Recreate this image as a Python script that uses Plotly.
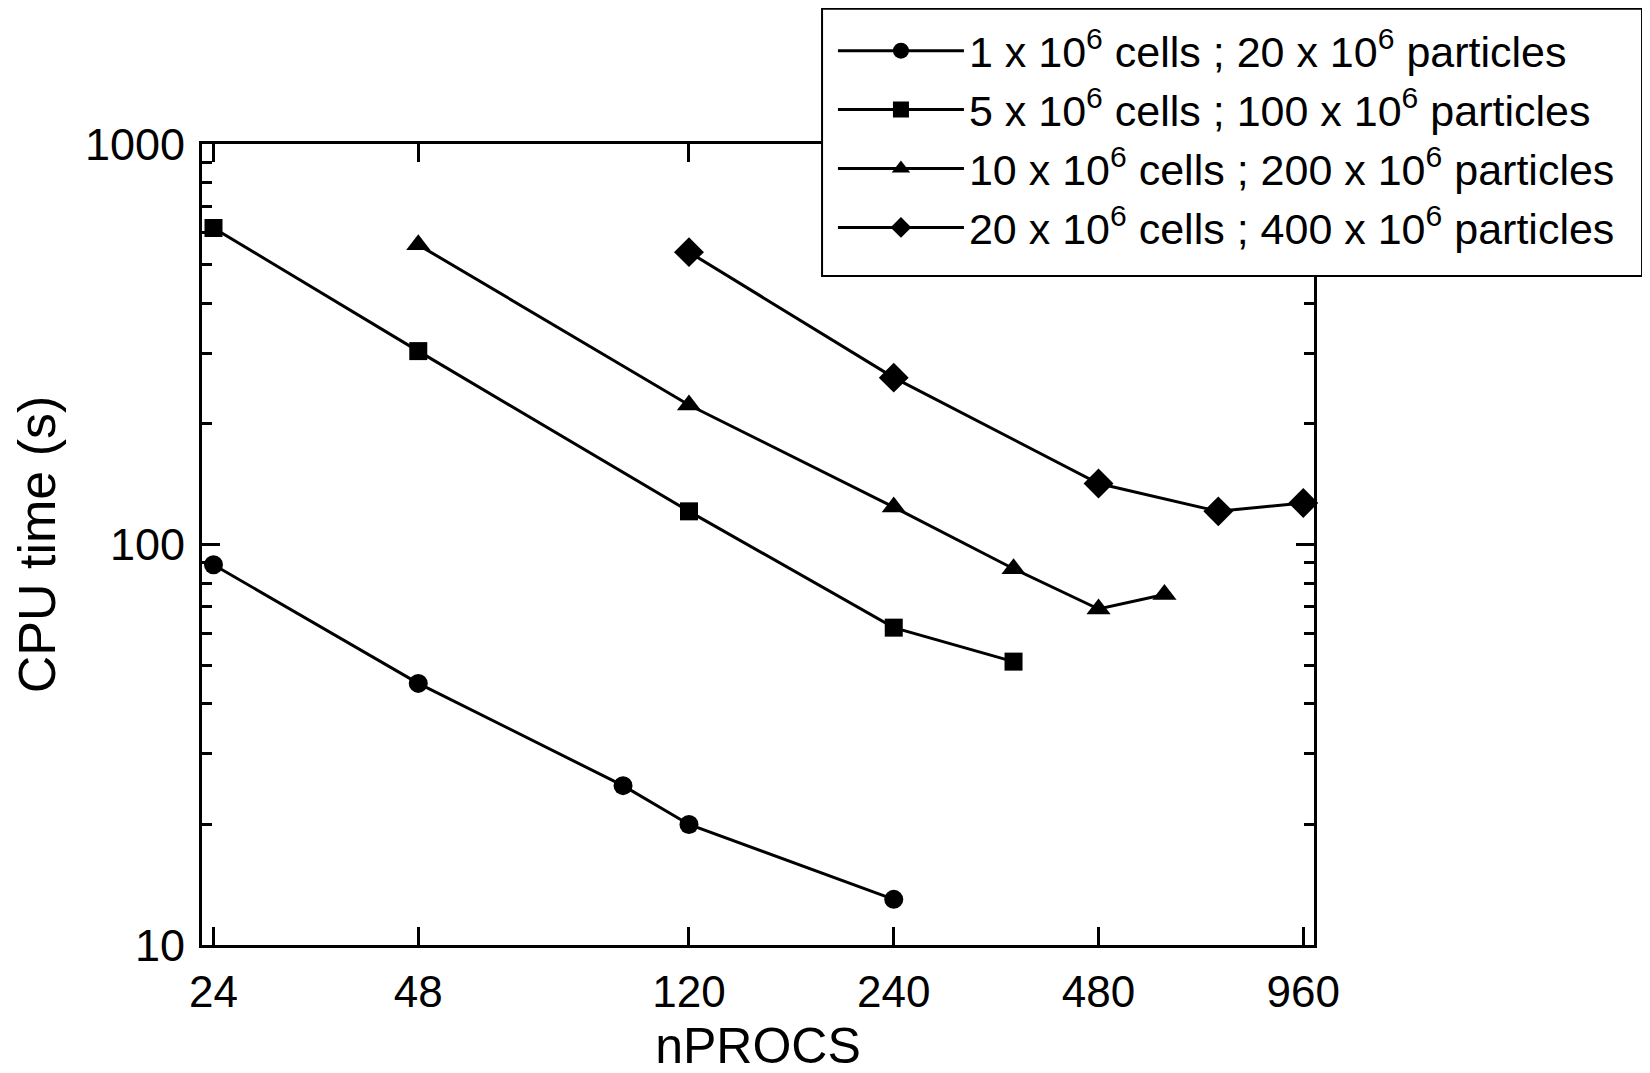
import plotly.graph_objects as go

# nPROCS / CPU time (s)
x_1m = [24, 48, 96, 120, 240]
t_1m = [89, 45, 25, 20, 13]

x_5m = [24, 48, 120, 240, 360]
t_5m = [617, 304, 121, 62, 51]

x_10m = [48, 120, 240, 360, 480, 600]
t_10m = [560, 223, 124, 87, 69, 75]

x_20m = [120, 240, 480, 720, 960]
t_20m = [537, 261, 142, 121, 127]

names = [
    "1 x 10<sup>6</sup> cells ; 20 x 10<sup>6</sup> particles",
    "5 x 10<sup>6</sup> cells ; 100 x 10<sup>6</sup> particles",
    "10 x 10<sup>6</sup> cells ; 200 x 10<sup>6</sup> particles",
    "20 x 10<sup>6</sup> cells ; 400 x 10<sup>6</sup> particles",
]
symbols = ["circle", "square", "triangle-up", "diamond"]
sizes = [19, 18, 21, 23]

x_ticks = [24, 48, 120, 240, 480, 960]
y_ticks = [10, 100, 1000]
y_minor = [20, 30, 40, 50, 60, 70, 80, 90, 200, 300, 400, 500, 600, 700, 800, 900]

fig = go.Figure()
for xs, ys, nm, sym, sz in zip([x_1m, x_5m, x_10m, x_20m],
                               [t_1m, t_5m, t_10m, t_20m],
                               names, symbols, sizes):
    fig.add_trace(go.Scatter(
        x=xs, y=ys, name=nm, mode="lines+markers",
        line=dict(color="black", width=3),
        marker=dict(symbol=sym, size=sz, color="black"),
        cliponaxis=False,
    ))

# white framed box behind the legend (it covers the top-right of the plot)
fig.add_shape(type="rect", xref="paper", yref="paper",
              x0=0.5576, x1=1.295, y0=0.8352, y1=1.169,
              line=dict(color="black", width=2), fillcolor="white", layer="above")

font = "Liberation Sans, Arial, sans-serif"
fig.update_layout(
    width=1650, height=1073,
    margin=dict(l=194, r=344, t=136, b=136, autoexpand=False),
    paper_bgcolor="white", plot_bgcolor="white",
    font=dict(family=font, color="black", size=44),
    showlegend=True,
    legend=dict(
        x=0.5674, y=1.1595, xanchor="left", yanchor="top",
        bgcolor="rgba(0,0,0,0)", borderwidth=0,
        font=dict(size=43), itemwidth=126, tracegroupgap=0,
    ),
)
fig.update_xaxes(
    type="log", range=[1.3633, 2.998],
    title=dict(text="nPROCS", font=dict(size=50), standoff=14),
    tickvals=x_ticks, ticktext=[str(v) for v in x_ticks],
    ticks="inside", ticklen=18, tickwidth=2.5, tickcolor="black",
    ticklabelstandoff=6,
    showline=True, linecolor="black", linewidth=3, mirror="ticks",
    showgrid=False, zeroline=False,
    tickfont=dict(size=44),
)
fig.update_yaxes(
    type="log", range=[1, 3],
    title=dict(text="CPU time (s)", font=dict(size=52), standoff=26),
    tickvals=y_ticks, ticktext=[str(v) for v in y_ticks],
    ticks="inside", ticklen=18, tickwidth=2.5, tickcolor="black",
    ticklabelstandoff=5,
    minor=dict(tickvals=y_minor, ticks="inside", ticklen=10, tickwidth=2.5, tickcolor="black"),
    showline=True, linecolor="black", linewidth=3, mirror="ticks",
    showgrid=False, zeroline=False,
    tickfont=dict(size=45),
)

fig.write_html("out.html")
